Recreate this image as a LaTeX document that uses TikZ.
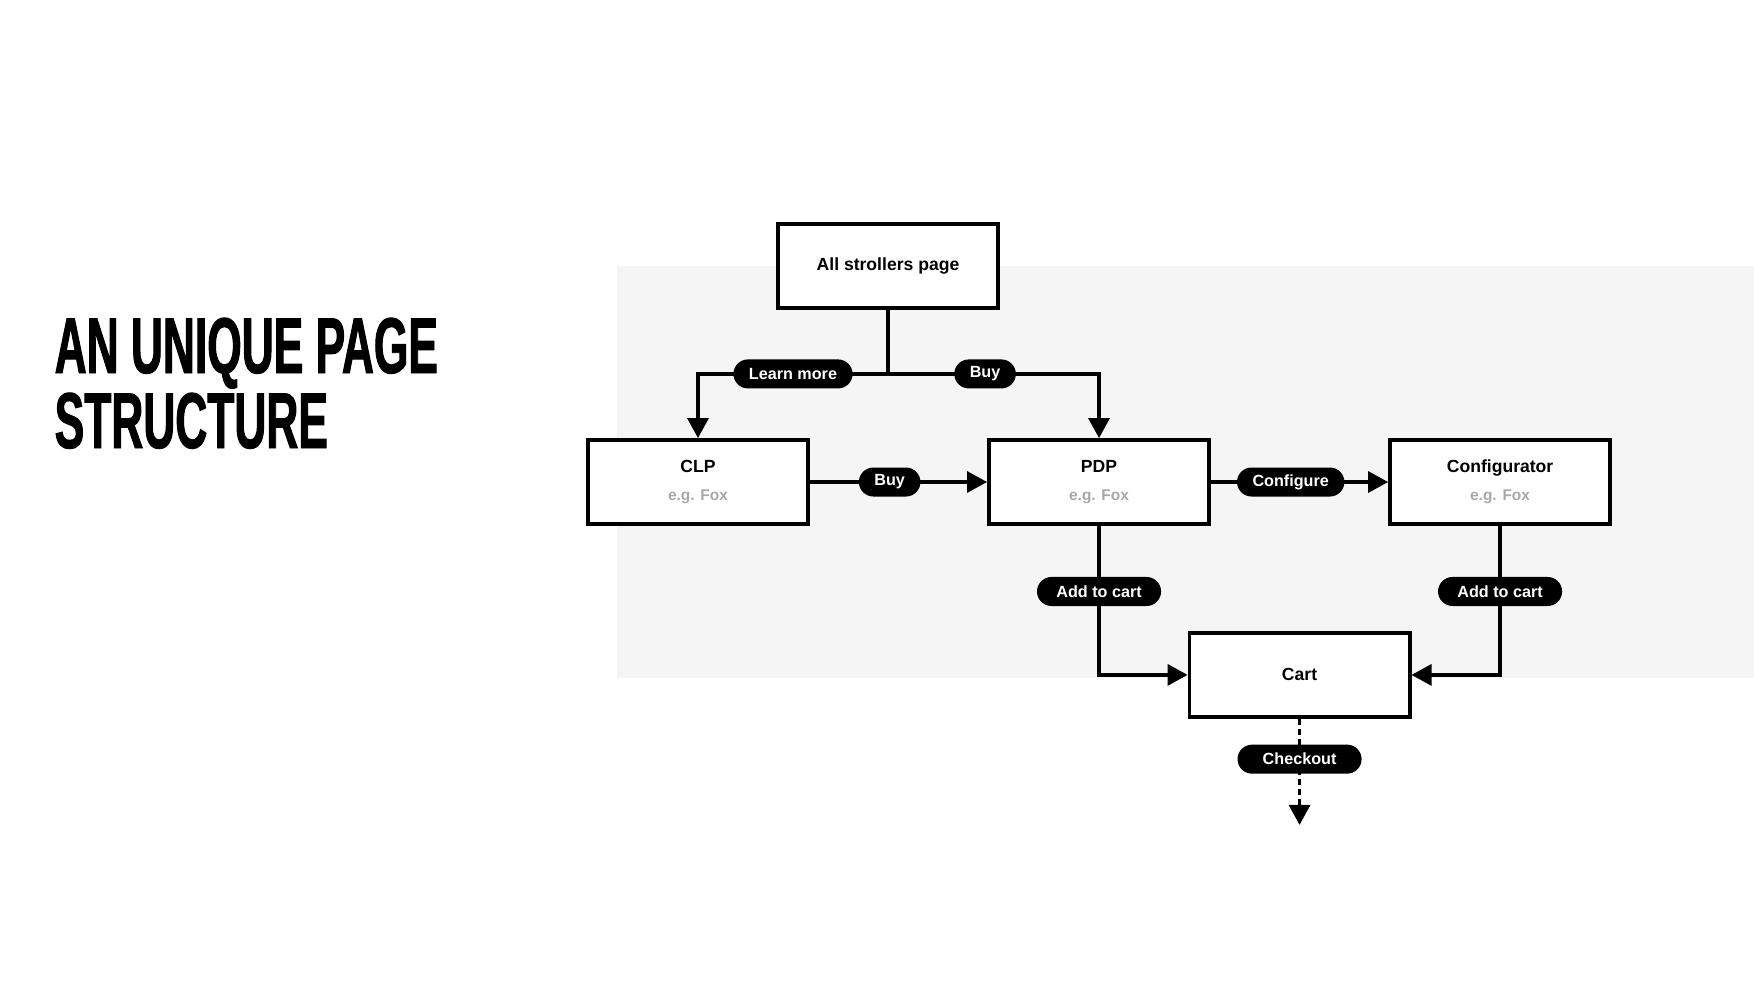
\documentclass[tikz,border=0pt]{standalone}
\usepackage{fontspec}
\setmainfont{Liberation Sans}
\newfontfamily\titlefont[FakeStretch=0.56, FakeBold=1.2]{Liberation Sans}
\usetikzlibrary{
  arrows.meta,
  positioning,
  calc
}
\definecolor{panelgray}{HTML}{F5F5F5}
\definecolor{subgray}{HTML}{A8A8A8}
\tikzset{
  page/.style={
    rectangle, draw=black, fill=white, line width=0.038cm,
    minimum width=2.2cm, minimum height=0.84cm, inner sep=0pt,
    font=\fontsize{5}{8}\selectfont\bfseries, align=center
  },
  pill/.style={
    rectangle, fill=black, text=white, rounded corners=0.145cm,
    minimum height=0.29cm, inner xsep=0.155cm, inner ysep=0pt,
    font=\fontsize{4.6}{5}\selectfont\bfseries
  },
  link/.style={-{Triangle[length=0.2cm, width=0.21cm]}, line width=0.033cm},
  title/.style={anchor=base west, inner sep=0pt, text depth=0pt,
    font=\titlefont\bfseries\fontsize{22.5}{23}\selectfont},
}
\newcommand{\egname}[1]{\\{\color{subgray}\fontsize{4.4}{8}\selectfont #1}}

\begin{document}
\begin{tikzpicture}[x=0.01cm, y=-0.01cm]
\useasboundingbox (0,0) rectangle (1754,981);

% Panel behind the flow
\fill[panelgray] (617,266) rectangle (1754,678);

% Heading
\node[title] (title1) at (54,373) {AN UNIQUE PAGE};
\node[title] (title2) at (54,448) {STRUCTURE};

% Pages
\node[page] (all) at (888,266) {All strollers page};
\node[page] (clp) at (698,482) {CLP\egname{e.g. Fox}};
\node[page, right=1.77cm of clp] (pdp) {PDP\egname{e.g. Fox}};
\node[page, right=1.77cm of pdp] (cfg) {Configurator\egname{e.g. Fox}};
\coordinate (mid) at ($(pdp.south)!0.5!(cfg.south)$);
\node[page, below=1.05cm of mid] (cart) {Cart};
\coordinate[below=1.06cm of cart.south] (exit);

% Arrows
\draw[link] (all.south) -- ++(0,64) coordinate (fork) -| node[pill, pos=0.25] {Learn more} (clp.north);
\draw[link] (fork) -| node[pill, pos=0.23] {Buy} (pdp.north);
\draw[link] (clp) -- node[pill, pos=0.45] {Buy} (pdp);
\draw[link] (pdp) -- node[pill, pos=0.45] {Configure} (cfg);
\draw[link] (pdp.south) |- node[pill, pos=0.22, minimum width=1.24cm] {Add to cart} (cart.west);
\draw[link] (cfg.south) |- node[pill, pos=0.22, minimum width=1.24cm] {Add to cart} (cart.east);
\draw[link, dash pattern=on 0.06cm off 0.04cm] (cart.south) -- node[pill, pos=0.38, minimum width=1.24cm] {Checkout} (exit);

\end{tikzpicture}
\end{document}
